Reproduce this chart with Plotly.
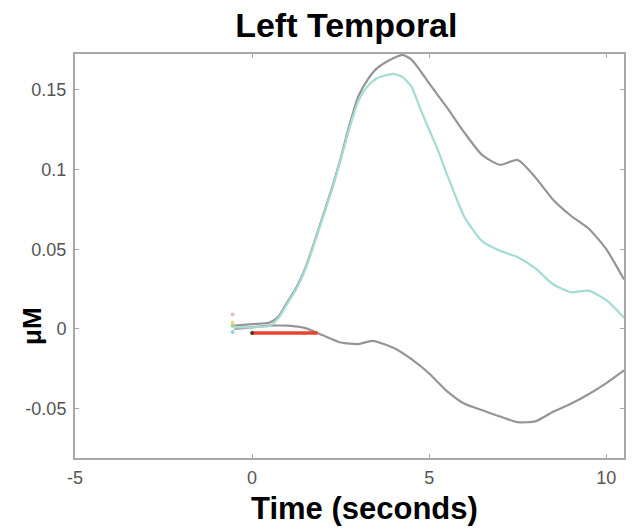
import plotly.graph_objects as go

# Upper bound (gray)
upper_x = [-0.5, 0, 0.5, 0.75, 1.0, 1.25, 1.5, 1.75, 2.0, 2.25, 2.5, 2.75, 3.0, 3.25, 3.5, 3.75, 4.0, 4.25,
           4.5, 4.75, 5.0, 5.5, 6.0, 6.5, 7.0, 7.5, 8.0, 8.5, 9.0, 9.5, 10.0, 10.5]
upper_y = [0.002, 0.003, 0.004, 0.008, 0.017, 0.026, 0.038, 0.054, 0.071, 0.088, 0.107, 0.128, 0.146, 0.156,
           0.163, 0.167, 0.170, 0.172, 0.169, 0.162, 0.154, 0.139, 0.123, 0.109, 0.103, 0.106, 0.095, 0.081,
           0.071, 0.063, 0.050, 0.031]

# Mean (cyan)
mean_x = [-0.5, 0, 0.5, 0.75, 1.0, 1.25, 1.5, 1.75, 2.0, 2.25, 2.5, 2.75, 3.0, 3.25, 3.5, 3.75, 4.0, 4.25,
          4.5, 4.75, 5.0, 5.25, 5.5, 5.75, 6.0, 6.5, 7.0, 7.5, 8.0, 8.5, 9.0, 9.5, 10.0, 10.5]
mean_y = [0.001, 0.001, 0.002, 0.007, 0.016, 0.025, 0.037, 0.053, 0.070, 0.087, 0.106, 0.126, 0.143, 0.152,
          0.157, 0.159, 0.160, 0.158, 0.152, 0.138, 0.125, 0.112, 0.097, 0.083, 0.070, 0.055, 0.049, 0.045,
          0.038, 0.028, 0.023, 0.024, 0.018, 0.007]

# Lower bound (gray)
lower_x = [-0.5, 0, 0.5, 1.0, 1.5, 2.0, 2.5, 3.0, 3.4, 4.0, 4.5, 5.0, 5.5, 6.0, 6.5, 7.0, 7.5, 8.0, 8.5,
           9.0, 9.5, 10.0, 10.5]
lower_y = [0.0, 0.001, 0.002, 0.002, 0.0005, -0.004, -0.0085, -0.0095, -0.0075, -0.012, -0.019, -0.028,
           -0.039, -0.047, -0.051, -0.055, -0.0585, -0.058, -0.052, -0.047, -0.041, -0.034, -0.026]

# Stimulus bar (red)
stim_x = [0, 1.85]
stim_y = [-0.0025, -0.0025]

# Small pre-stimulus markers
pre_x = [-0.55, -0.55, -0.55, -0.55]
pre_y = [0.009, 0.004, 0.002, -0.002]
pre_colors = ["#f2b6c6", "#e4e08a", "#9fd39a", "#8fd0e0"]

# Tick labels
x_ticks = [-5, 0, 5, 10]
x_ticklabels = ["-5", "0", "5", "10"]
y_ticks = [-0.05, 0, 0.05, 0.1, 0.15]
y_ticklabels = ["-0.05", "0", "0.05", "0.1", "0.15"]

smooth = dict(shape="spline", smoothing=0.6)

fig = go.Figure()
fig.add_trace(go.Scatter(x=upper_x, y=upper_y, mode="lines", line=dict(color="#959595", width=2.2, **smooth), showlegend=False))
fig.add_trace(go.Scatter(x=lower_x, y=lower_y, mode="lines", line=dict(color="#959595", width=2.2, **smooth), showlegend=False))
fig.add_trace(go.Scatter(x=mean_x, y=mean_y, mode="lines", line=dict(color="#a3dcd4", width=2.2, **smooth), showlegend=False))
fig.add_trace(go.Scatter(x=pre_x, y=pre_y, mode="markers", marker=dict(color=pre_colors, size=4), showlegend=False))
fig.add_trace(go.Scatter(x=stim_x, y=stim_y, mode="lines", line=dict(color="#e8432b", width=3.5), showlegend=False))
fig.add_trace(go.Scatter(x=[stim_x[0]], y=[stim_y[0]], mode="markers", marker=dict(color="#5a2a20", size=4), showlegend=False))

axis_common = dict(showgrid=False, zeroline=False, showline=True, linecolor="#a8a8a8", linewidth=2,
                   mirror="ticks", ticks="inside", ticklen=4, tickcolor="#a8a8a8", automargin=False,
                   tickfont=dict(size=18, color="#555555"))

fig.update_layout(
    width=632, height=529,
    margin=dict(l=75, r=8, t=54, b=71),
    paper_bgcolor="white", plot_bgcolor="white",
    font=dict(family="Liberation Sans, Arial, sans-serif", color="#444444"),
    title=dict(text="<b>Left Temporal</b>", x=0.548, xref="container", xanchor="center",
               y=0.9527, yref="container", yanchor="middle",
               font=dict(size=34, color="#000000")),
    xaxis=dict(range=[-5, 10.5], tickvals=x_ticks, ticktext=x_ticklabels, ticklabelstandoff=2, **axis_common),
    yaxis=dict(range=[-0.081, 0.1725], tickvals=y_ticks, ticktext=y_ticklabels, ticklabelstandoff=3, **axis_common),
    annotations=[
        dict(text="<b>μM</b>", xref="paper", yref="y", x=0, y=0, xshift=-43, yshift=3, textangle=-90,
             showarrow=False, font=dict(size=26, color="#000000"), xanchor="center", yanchor="middle"),
        dict(text="<b>Time (seconds)</b>", xref="paper", yref="paper", x=0.5265, y=0, yshift=-50,
             showarrow=False, font=dict(size=31, color="#000000"), xanchor="center", yanchor="middle"),
    ],
)

fig.write_html("out.html", config={"displayModeBar": False},
               post_script="document.body.style.margin='0px';")
